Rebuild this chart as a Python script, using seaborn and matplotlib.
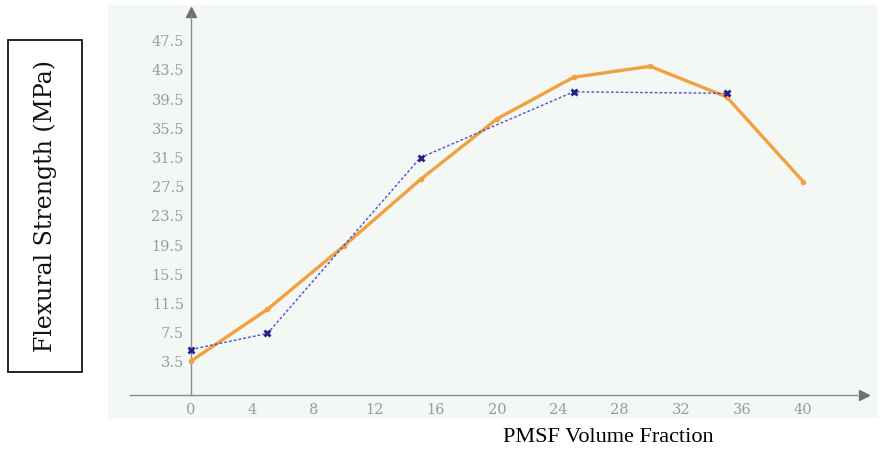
import numpy as np
import pandas as pd
import seaborn as sns
import matplotlib.pyplot as plt
from matplotlib.patches import Rectangle

# values
x_orange = [0, 5, 10, 15, 20, 25, 30, 35, 40]
y_orange = [3.6, 10.7, 19.4, 28.5, 36.8, 42.5, 44.0, 39.8, 28.2]
x_blue = [0, 5, 15, 25, 35]
y_blue = [5.2, 7.4, 31.5, 40.5, 40.3]
x_ticks = [0, 4, 8, 12, 16, 20, 24, 28, 32, 36, 40]
y_ticks = [3.5, 7.5, 11.5, 15.5, 19.5, 23.5, 27.5, 31.5, 35.5, 39.5, 43.5, 47.5]

sns.set_style('white')
fig = plt.figure(figsize=(8.8, 4.53), dpi=100)
ax = fig.add_axes([0.123, 0.077, 0.875, 0.912])
ax.set_facecolor('#f3f8f4')

axis_grey = '#8c8c8c'
label_grey = '#9a9a9a'

sns.lineplot(x=x_orange, y=y_orange, ax=ax, color='#f2a040', lw=2.4,
             marker='o', markersize=4, markeredgewidth=0, zorder=4)
sns.lineplot(x=x_blue, y=y_blue, ax=ax, color='#5050d0', lw=1.0, ls=(0, (2, 1.5)),
             marker='x', markersize=5, markeredgewidth=2, markeredgecolor='#22228a', zorder=5)

ax.set_xlim(-5.4, 44.9)
ax.set_ylim(-4.2, 52.4)

# axes drawn as lines crossing at x=0, y=-1 with arrow heads
for s in ['top', 'right']:
    ax.spines[s].set_visible(False)
ax.spines['left'].set_position(('data', 0))
ax.spines['bottom'].set_position(('data', -1))
ax.spines['left'].set_bounds(-1, 51)
ax.spines['bottom'].set_bounds(-4, 43.5)
for s in ['left', 'bottom']:
    ax.spines[s].set_color(axis_grey)
    ax.spines[s].set_linewidth(1.0)
ax.plot(44.0, -1, marker='>', color='#707070', markersize=7, clip_on=False)
ax.plot(0, 51.5, marker='^', color='#707070', markersize=7, clip_on=False)

ax.set_xticks(x_ticks)
ax.set_yticks(y_ticks)
ax.set_xticklabels([str(t) for t in x_ticks])
ax.set_yticklabels([f'{t:.1f}' for t in y_ticks])
ax.tick_params(axis='both', direction='inout', length=6, width=1, color=axis_grey,
               labelcolor=label_grey, labelsize=10.5)
ax.tick_params(axis='y', pad=2)
ax.tick_params(axis='x', pad=3)
for lab in ax.get_xticklabels() + ax.get_yticklabels():
    lab.set_family('DejaVu Serif')
ax.set_xlabel('')
ax.set_ylabel('')

# boxed y label at the far left
fig.patches.append(Rectangle((8 / 880, 1 - 372 / 453), 74 / 880, 332 / 453,
                             transform=fig.transFigure, fill=False, ec='black', lw=1.2))
fig.text(45 / 880, 1 - 206 / 453, 'Flexural Strength (MPa)', rotation=90,
         ha='center', va='center', fontsize=17, family='DejaVu Serif', color='#111111')

fig.text(608 / 880, 1 - 437 / 453, 'PMSF Volume Fraction', ha='center', va='center',
         fontsize=16, family='Liberation Serif', color='black')

fig.savefig('out.png', dpi=100, facecolor='white')
